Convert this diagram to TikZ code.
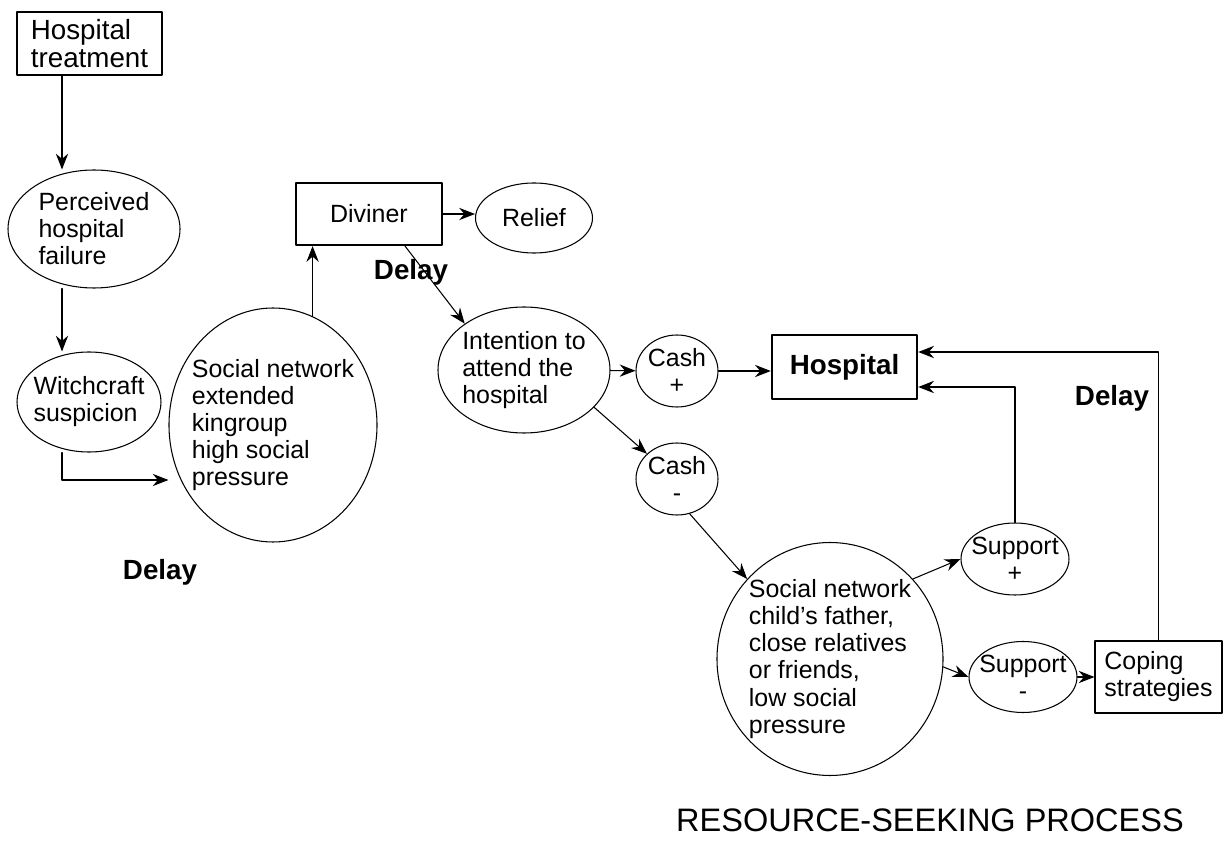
\documentclass[tikz,border=0pt]{standalone}
\usepackage{fontspec}
\setmainfont{Liberation Sans}
\usetikzlibrary{arrows.meta,shapes.geometric}

\newcommand{\px}{0.02cm}

\begin{document}
\begin{tikzpicture}[line cap=round,line join=round,>={Stealth[length=9pt,width=7pt,inset=3pt]},x=\px,y=-\px,line width=0.6pt,
	every node/.style={font=\fontsize{14.2}{15.4}\selectfont},
	oval/.style 2 args={draw,ellipse,inner sep=-20pt,minimum width=#1*\px,minimum height=#2*\px,align=left},
	box/.style 2 args={draw,rectangle,inner sep=0pt,minimum width=#1*\px,minimum height=#2*\px,align=left},
	delay/.style={font=\fontsize{15.8}{16}\bfseries\selectfont}]
			\useasboundingbox (0,0) rectangle (1225,841);
			\node[box={145}{63},line width=1.2pt,font=\fontsize{15.8}{16}\selectfont] (ht) at (89.5,43.5) {Hospital\\treatment};
			\node[oval={172}{118}] (pf) at (94,229) {Perceived\\hospital\\failure};
			\node[oval={144}{100}] (wc) at (89,402) {Witchcraft\\suspicion};
			\node[oval={208}{234}] (sn1) at (273,425) {Social network\\extended\\kingroup\\high social\\pressure};
			\node[box={146}{62},line width=1.2pt] (dv) at (369,214) {Diviner};
			\node[oval={117}{70}] (rl) at (534,218) {Relief};
			\node[oval={172}{126}] (int) at (524,370) {Intention to\\attend the\\hospital};
			\node[oval={82}{72},align=center] (cp) at (677,371) {Cash\\+};
			\node[oval={82}{72},align=center] (cm) at (677,479) {Cash\\-};
			\node[box={145}{64},line width=1.4pt,font=\fontsize{15.8}{16}\bfseries\selectfont] (hs) at (844.5,367) {Hospital};
			\node[oval={226}{233}] (sn2) at (830,659) {Social network\\child’s father,\\close relatives\\or friends,\\low social\\pressure};
			\node[oval={108}{72},align=center] (sp) at (1015,559) {Support\\+};
			\node[oval={108}{71},align=center] (sm) at (1023,677) {Support\\-};
			\node[box={127}{72}] (cs) at (1158.5,677) {Coping\\strategies};
			\coordinate (lx) at (62,0);
			\coordinate (dvx) at (405,0);
			\coordinate (r1) at (0,480);
			\coordinate (r2) at (0,352);
			\coordinate (r3) at (0,387);
			\draw[->] (ht.south -| lx) -- (pf.north -| lx);
			\draw[->] (pf.south -| lx) -- (wc.north -| lx);
			\draw[->] (wc.south -| lx) |- (sn1.west |- r1);
			\draw[->] (sn1.70) -- (sn1.70 |- dv.south);
			\draw[->] (dv.east) -- (dv.east -| rl.west);
			\draw[->] (dv.south -| dvx) -- (int.142);
			\draw[->] (int) -- (cp);
			\draw[->] (cp.east) -- (cp.east -| hs.west);
			\draw[->] (int.-28) -- (cm.140);
			\draw[->] (cm.-70) -- (sn2.136);
			\draw[->] (sn2.44) -- (sp.west);
			\draw[->] (sn2.-4) -- (sm.west);
			\draw[->] (sm) -- (cs);
			\draw[->] (sp.north) |- (hs.east |- r3);
			\draw[->] (cs.north) |- (hs.east |- r2);
			\node[delay] (d1) at (160,572) {Delay};
			\node[delay] (d2) at (411,272) {Delay};
			\node[delay] (d3) at (1112,398) {Delay};
			\node[font=\fontsize{18.5}{18.5}\selectfont] (title) at (930,820) {RESOURCE-SEEKING PROCESS};
		\end{tikzpicture}
\end{document}
